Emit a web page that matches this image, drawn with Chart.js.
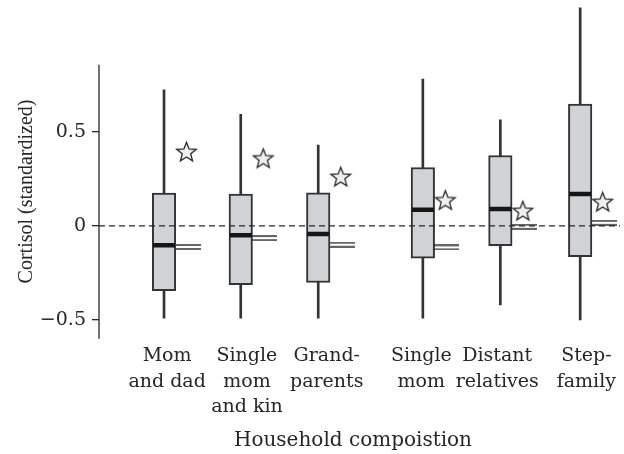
<!DOCTYPE html>
<html><head><meta charset="utf-8">
<script src="https://cdn.jsdelivr.net/npm/chart.js@4"></script>
<style>html,body{margin:0;padding:0;background:#fff}</style>
</head><body>
<canvas id="c" width="624" height="454"></canvas>
<script>
// ---- data ----
const categories = [['Mom','and dad'],['Single','mom','and kin'],['Grand-','parents'],['Single','mom'],['Distant','relatives'],['Step-','family']];
const whiskerLow  = [-0.49, -0.49, -0.49, -0.49, -0.42, -0.50];
const quartile1   = [-0.344, -0.312, -0.301, -0.172, -0.105, -0.163];
const medians     = [-0.103, -0.050, -0.043, 0.085, 0.089, 0.169];
const quartile3   = [0.174, 0.169, 0.176, 0.310, 0.374, 0.647];
const whiskerHigh = [0.723, 0.592, 0.429, 0.780, 0.564, 1.158];
const starValues  = [0.395, 0.360, 0.262, 0.138, 0.081, 0.129];
const meanValues  = [-0.112, -0.065, -0.100, -0.114, -0.005, 0.016];
const yTickValues = [-0.5, 0, 0.5];
const yTickLabels = ['\u22120.5', '0', '0.5'];
const yTitle = 'Cortisol (standardized)';
const xTitle = 'Household compoistion';

// ---- layout ----
const slots = [1, 1.99, 2.99, 4.34, 5.34, 6.37];
const labelSlots = [1.04, 2.07, 3.10, 4.32, 5.30, 6.45];
const starOffset = 0.29, meanOffset = 0.31;
const X_MIN = 0.161, X_MAX = 6.884, Y_MIN = -0.6, Y_MAX = 1.2, AXIS_TOP = 0.856;
const INK = '#262626';

function makeStar(r){
  const s = Math.ceil(r*2+4);
  const c = document.createElement('canvas'); c.width = s; c.height = s;
  const g = c.getContext('2d');
  g.translate(s/2, s/2 + r*0.095);
  g.beginPath();
  for (let i = 0; i < 10; i++) {
    const rad = i % 2 ? r*0.43 : r;
    const a = -Math.PI/2 + i*Math.PI/5;
    g.lineTo(rad*Math.cos(a), rad*Math.sin(a));
  }
  g.closePath();
  g.fillStyle = '#efefef'; g.fill();
  g.lineWidth = 1.3; g.strokeStyle = INK; g.stroke();
  return c;
}
function makeDouble(){
  const c = document.createElement('canvas'); c.width = 25; c.height = 6;
  const g = c.getContext('2d'); g.fillStyle = INK;
  g.fillRect(0, 0.3, 25, 1.4); g.fillRect(0, 4.3, 25, 1.4);
  return c;
}
const starImg = makeStar(10.3);
const doubleImg = makeDouble();

const decor = {
  id: 'decor',
  afterDraw(chart){
    const {ctx, scales:{y}, chartArea} = chart;
    ctx.save();
    ctx.strokeStyle = INK; ctx.lineWidth = 1.3;
    ctx.beginPath();
    ctx.moveTo(chartArea.left, y.getPixelForValue(AXIS_TOP));
    ctx.lineTo(chartArea.left, y.getPixelForValue(Y_MIN));
    ctx.stroke();
    ctx.fillStyle = INK; ctx.textAlign = 'center'; ctx.textBaseline = 'middle';
    ctx.font = '20px "DejaVu Serif"';
    ctx.fillText(xTitle, 353, 441);
    ctx.translate(27, 191.5);
    ctx.rotate(-Math.PI/2);
    ctx.font = '20px "Liberation Serif"';
    ctx.fillText(yTitle, 0, 0);
    ctx.restore();
  }
};

new Chart(document.getElementById('c'), {
  type: 'bar',
  data: {
    datasets: [
      { type:'line', data:[{x:X_MIN,y:0},{x:X_MAX,y:0}], borderColor:INK, borderWidth:1.3, borderDash:[6,4], pointRadius:0, order:0 },
      { type:'line', showLine:false, data: slots.map((s,i)=>({x:s, y:medians[i]})), pointStyle:'line', pointRadius:11, pointBorderWidth:4.5, pointBorderColor:'#161616', order:1 },
      { type:'line', showLine:false, data: slots.map((s,i)=>({x:s+meanOffset, y:meanValues[i]})), pointStyle:doubleImg, order:1 },
      { type:'line', showLine:false, data: slots.map((s,i)=>({x:s+starOffset, y:starValues[i]})), pointStyle:starImg, order:1 },
      { type:'bar', grouped:false, data: slots.map((s,i)=>({x:s, y:[quartile1[i], quartile3[i]]})), barThickness:23.5, backgroundColor:'#d1d2d4', borderColor:'#333333', borderWidth:2, borderSkipped:false, order:2 },
      { type:'bar', grouped:false, data: slots.map((s,i)=>({x:s, y:[whiskerLow[i], whiskerHigh[i]]})), barThickness:2, backgroundColor:'#333333', borderWidth:0, order:3 }
    ]
  },
  options: {
    responsive:false, animation:false, events:[],
    layout:{ autoPadding:false, padding:{ left:0, right:4, top:0, bottom:0 } },
    plugins:{ legend:{display:false}, tooltip:{enabled:false} },
    scales:{
      x:{ type:'linear', min:X_MIN, max:X_MAX, offset:false,
        afterBuildTicks: s => { s.ticks = labelSlots.map(v => ({value:v})); },
        afterFit: s => { s.height = 115.2; s.paddingLeft = 0; s.paddingRight = 0; },
        ticks:{ callback:(v,i)=>categories[i], font:{family:'DejaVu Serif', size:19, lineHeight:1.34}, color:INK, padding:5, maxRotation:0, autoSkip:false },
        grid:{ display:false, drawTicks:false, offset:false },
        border:{ display:false },
        title:{ display:false }
      },
      y:{ type:'linear', min:Y_MIN, max:Y_MAX,
        afterBuildTicks: s => { s.ticks = yTickValues.map(v => ({value:v})); },
        afterFit: s => { s.width = 99; s.paddingTop = 0; s.paddingBottom = 0; },
        ticks:{ callback:(v,i)=>yTickLabels[i], font:{family:'DejaVu Serif', size:19, lineHeight:0.05}, color:INK, padding:6 },
        grid:{ drawOnChartArea:false, drawTicks:true, tickLength:7, color:INK, lineWidth:1.3 },
        border:{ display:false }
      }
    }
  },
  plugins:[decor]
});
</script>
</body></html>
